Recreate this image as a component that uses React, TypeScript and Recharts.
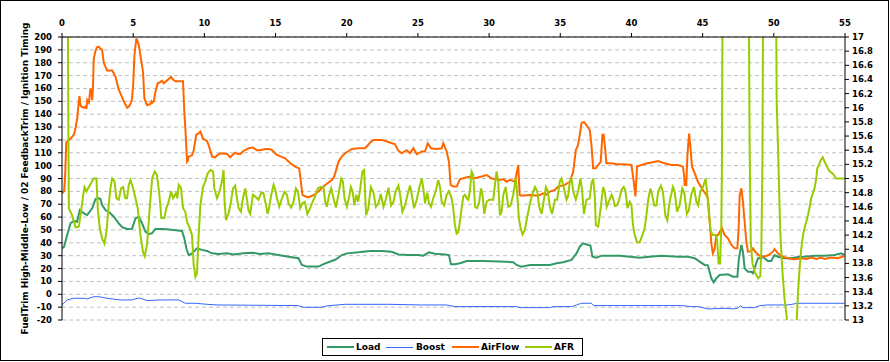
import React from 'react';
import { LineChart, Line, XAxis, YAxis, CartesianGrid } from 'recharts';

const FONT = '"DejaVu Sans", Verdana, sans-serif';

// ---- axis ticks ----
const xTicks = [0, 5, 10, 15, 20, 25, 30, 35, 40, 45, 50, 55];
const leftTicks = [-20, -10, 0, 10, 20, 30, 40, 50, 60, 70, 80, 90, 100, 110, 120, 130, 140, 150, 160, 170, 180, 190, 200];
const rightTicks = [13, 13.2, 13.4, 13.6, 13.8, 14, 14.2, 14.4, 14.6, 14.8, 15, 15.2, 15.4, 15.6, 15.8, 16, 16.2, 16.4, 16.6, 16.8, 17];

const yTitle = 'FuelTrim High-Middle-Low / 02 FeedbackTrim / Ignition Timing';
const seriesNames = ['Load', 'Boost', 'AirFlow', 'AFR'];
const seriesColors = ['#339966', '#3366FF', '#FF6600', '#99CC00'];

// ---- Load ----
const loadT = [0, 0.15, 0.36, 0.6, 0.83, 1.06, 1.25, 1.42, 1.6, 1.77, 2.12, 2.35, 2.58, 2.7, 2.82, 3.05, 3.4, 3.64, 3.99, 4.22, 4.57, 4.92, 5.16, 5.39, 5.62, 5.86, 6.09, 6.33, 6.56, 6.91, 7.38, 7.84, 8.43, 8.59, 8.75, 8.9, 9.13, 9.48, 9.83, 10.19, 10.54, 11.0, 11.59, 12.06, 12.75, 13.34, 13.92, 14.5, 14.98, 15.91, 16.61, 16.85, 17.2, 18.02, 18.37, 18.84, 19.19, 19.66, 20.01, 20.82, 21.64, 22.46, 23.16, 23.63, 24.33, 25.03, 25.38, 25.78, 26.2, 26.9, 27.18, 27.32, 27.6, 27.96, 28.43, 29.59, 30.76, 31.69, 31.93, 32.28, 32.87, 34.27, 34.74, 35.2, 35.79, 36.14, 36.37, 36.6, 36.96, 37.12, 37.26, 37.54, 37.9, 38.48, 39.18, 39.88, 40.58, 41.28, 42.1, 43.27, 43.97, 44.44, 44.79, 45.14, 45.37, 45.5, 45.61, 45.77, 45.96, 46.19, 46.78, 47.13, 47.44, 47.55, 47.72, 47.83, 47.95, 48.18, 48.4, 48.53, 48.69, 48.88, 49.12, 49.23, 49.35, 49.58, 49.82, 50.05, 50.28, 50.75, 51.22, 51.69, 52.16, 52.86, 53.56, 54.26, 54.73, 54.96];
const loadV = [35.7, 37, 46, 55.2, 57, 56.4, 65.5, 64, 62.5, 61.6, 66.8, 74, 74.6, 74, 69.4, 65.5, 63, 60.3, 55.2, 52.1, 50.8, 51, 59, 60.3, 55.2, 48.7, 46.7, 47.5, 50.8, 50.8, 50.5, 50, 49.2, 43.5, 35, 30.5, 31.8, 35.7, 34.5, 33.7, 31.8, 31.3, 31.8, 31, 31.8, 32.3, 31.3, 31.8, 31, 29.2, 28, 22.8, 21.5, 21.5, 23.4, 25.5, 26.8, 30.5, 31.8, 32.6, 33.7, 33.7, 33, 31, 30.5, 30.5, 30, 32.6, 31.5, 31, 30.5, 23.3, 23.3, 24.1, 25.9, 25.9, 25.5, 24.9, 22.8, 21.5, 22.8, 22.8, 24.1, 24.9, 26.7, 31.8, 37, 39.6, 38.3, 37.8, 29.2, 28.4, 30, 30, 30, 29.2, 28.4, 29.2, 30, 29.2, 29.2, 28, 25.4, 22.8, 22.5, 17, 12.4, 9.3, 12.4, 15, 15.5, 13.7, 13.7, 28, 38.3, 33.1, 20.2, 17.6, 17.6, 16.3, 21.5, 28, 28, 29.2, 28, 25.9, 25.9, 30.5, 29.2, 28, 28, 28.9, 29.2, 30, 30, 30.5, 31.8, 30.5];

// ---- Boost ----
const boostT = [0, 0.13, 0.36, 0.83, 1.53, 1.77, 2.23, 2.58, 3.17, 4.1, 4.92, 5.3, 5.51, 5.98, 6.91, 8.2, 8.66, 9.36, 10.19, 10.89, 16.61, 16.96, 18.25, 18.6, 19.89, 22.93, 25.27, 27.0, 27.6, 31.93, 32.16, 34.27, 34.5, 35.79, 36.14, 36.49, 37.19, 37.35, 43.51, 44.21, 44.67, 45.37, 46.54, 47.25, 47.53, 47.67, 47.83, 48.65, 49.0, 49.58, 50.99, 51.69, 54.96];
const boostV = [-8, -7, -4.4, -3.1, -3.1, -3.6, -1.9, -1.9, -3.1, -4.4, -4.4, -3.1, -3.1, -4.9, -4.4, -4.4, -7, -7, -7.8, -8.3, -8.8, -10.1, -10.1, -9, -7.8, -7.8, -8.3, -8.3, -9.6, -9.6, -10.4, -10.4, -9.6, -9.6, -8.3, -7, -7, -8.8, -8.8, -9.6, -9.6, -11.4, -10.9, -11.4, -10.4, -8.8, -10.4, -10.4, -8.8, -8.3, -8.3, -7, -7];

// ---- AirFlow ----
const airT = [0, 0.15, 0.22, 0.3, 0.45, 0.6, 0.83, 0.95, 1.07, 1.18, 1.23, 1.3, 1.35, 1.55, 1.66, 1.72, 1.77, 1.89, 2.0, 2.06, 2.12, 2.17, 2.23, 2.35, 2.45, 2.58, 2.7, 2.82, 2.93, 3.05, 3.17, 3.52, 3.62, 3.76, 3.99, 4.15, 4.34, 4.57, 4.7, 4.81, 4.92, 5.0, 5.09, 5.16, 5.23, 5.39, 5.55, 5.69, 5.79, 5.98, 6.21, 6.28, 6.35, 6.45, 6.56, 6.72, 6.9, 7.03, 7.15, 7.26, 7.45, 7.66, 7.8, 7.96, 8.5, 8.59, 8.69, 8.78, 8.84, 8.9, 9.13, 9.25, 9.43, 9.6, 9.72, 9.9, 10.19, 10.3, 10.54, 10.75, 10.9, 11.12, 11.59, 11.82, 11.95, 12.17, 12.35, 12.52, 12.75, 13.1, 13.41, 13.69, 13.92, 14.28, 14.55, 14.75, 15.1, 15.4, 15.68, 16.03, 16.38, 16.66, 16.78, 16.89, 17.1, 17.32, 17.66, 18.02, 18.2, 18.49, 18.95, 19.1, 19.19, 19.42, 19.65, 19.89, 20.36, 20.82, 21.29, 21.5, 21.64, 21.88, 22.46, 22.93, 23.4, 23.6, 23.87, 24.05, 24.22, 24.45, 24.68, 24.92, 25.27, 25.5, 25.69, 25.92, 26.32, 26.67, 26.78, 27.02, 27.18, 27.3, 27.48, 27.72, 27.96, 28.31, 28.66, 28.9, 29.13, 29.48, 29.83, 30.18, 30.5, 30.76, 31.0, 31.23, 31.46, 31.81, 31.95, 32.05, 32.1, 32.15, 32.28, 32.87, 33.45, 33.8, 34.04, 34.27, 34.62, 34.85, 35.32, 35.67, 35.91, 36.09, 36.25, 36.37, 36.49, 36.66, 36.84, 37.07, 37.19, 37.31, 37.5, 37.66, 37.84, 37.96, 38.05, 38.17, 38.24, 38.6, 38.95, 39.41, 40.0, 40.16, 40.28, 40.39, 40.7, 41.1, 41.4, 41.87, 42.34, 42.81, 43.27, 43.62, 43.7, 43.74, 43.85, 43.93, 44.05, 44.15, 44.25, 44.4, 44.67, 45.02, 45.26, 45.37, 45.49, 45.61, 45.72, 45.84, 45.96, 46.1, 46.19, 46.36, 46.54, 46.78, 47.02, 47.25, 47.44, 47.53, 47.6, 47.72, 47.83, 47.95, 48.07, 48.18, 48.42, 48.54, 48.7, 48.88, 49.12, 49.4, 49.63, 49.94, 50.05, 50.28, 50.63, 50.99, 51.46, 51.93, 52.3, 52.63, 53.0, 53.3, 53.56, 54.03, 54.5, 54.96];
const airV = [78.5, 80, 92, 118, 120, 121, 124, 129, 137, 150, 154, 147, 146, 145, 146, 144, 151, 149, 160, 158, 151, 160, 183, 189, 192, 192.5, 191, 190, 180, 177, 174, 174, 172, 169, 159, 155, 150, 145, 146, 148, 152, 163, 186, 193, 199, 194, 183, 173, 152, 147, 148, 150, 149, 150, 157, 164, 165, 166, 164, 165, 167, 169, 167, 165.6, 165.6, 142, 124, 103, 104, 107, 108, 112, 124, 125, 126.4, 121, 119, 116, 107, 106.4, 108, 109.6, 109, 106.4, 108, 110, 109, 109, 111.4, 113.5, 114, 112, 112, 113, 113, 112, 108.3, 107, 105.7, 101.8, 99.2, 97.9, 87.5, 77.2, 76, 75.4, 77, 79.8, 82, 85, 88.8, 91, 94, 103, 107, 109.6, 113, 113.5, 113.5, 116, 118, 120, 120, 118.4, 116.6, 112, 109.6, 111, 112, 109.6, 113.5, 109, 111, 111, 117.4, 113.5, 113, 113.5, 117.4, 111, 103, 85, 83.7, 83.7, 89.6, 90.6, 91.5, 90, 90.6, 91.5, 92.7, 90, 89.5, 88.8, 89.5, 87.5, 89, 87.5, 95, 100.5, 88, 77.2, 76.6, 77.2, 76.6, 78.5, 77.5, 79.8, 81.1, 83.7, 85, 87.5, 95.3, 112, 116, 124, 133, 134, 131.6, 127.7, 116, 98, 98, 100.5, 103, 124, 124, 111, 101.8, 101.8, 101, 101, 100.5, 87.5, 76, 99.3, 100.5, 101.8, 102.4, 103.6, 101.8, 100.5, 100.5, 99.2, 92, 85, 85, 108, 125, 113.5, 99.2, 95.3, 87.5, 81, 77.2, 74.6, 57.7, 39.6, 31.8, 35, 46, 46, 48.4, 51.3, 46.2, 43.5, 38.3, 35.7, 35.7, 51.3, 77, 82.4, 72, 56.4, 41, 33.1, 33.5, 35.7, 33, 31, 29.2, 29.5, 30.5, 33.1, 35.2, 31.8, 29.2, 28, 27.3, 28, 27.5, 28.5, 27.5, 28.5, 27.5, 28.5, 28, 29.7];

// ---- AFR (right axis) ----
const afrT = [0, 0.38, 0.44, 0.48, 0.71, 0.95, 1.18, 1.3, 1.49, 1.58, 1.72, 1.89, 2.12, 2.23, 2.42, 2.51, 2.65, 2.82, 2.98, 3.12, 3.28, 3.4, 3.52, 3.69, 3.82, 3.99, 4.15, 4.29, 4.45, 4.57, 4.69, 4.81, 5.0, 5.16, 5.32, 5.51, 5.69, 5.81, 5.98, 6.16, 6.33, 6.51, 6.67, 6.84, 6.98, 7.19, 7.33, 7.49, 7.66, 7.8, 8.0, 8.1, 8.2, 8.36, 8.5, 8.66, 8.78, 8.97, 9.13, 9.25, 9.37, 9.48, 9.6, 9.72, 9.9, 10.07, 10.23, 10.42, 10.61, 10.7, 10.89, 11.07, 11.24, 11.35, 11.42, 11.52, 11.69, 11.87, 12.01, 12.17, 12.29, 12.4, 12.57, 12.71, 12.87, 12.98, 13.1, 13.22, 13.41, 13.55, 13.8, 14.0, 14.14, 14.33, 14.44, 14.56, 14.7, 14.86, 14.98, 15.1, 15.26, 15.45, 15.63, 15.8, 15.91, 16.1, 16.26, 16.43, 16.57, 16.73, 16.89, 17.05, 17.24, 17.43, 17.6, 17.78, 17.97, 18.13, 18.37, 18.49, 18.6, 18.77, 18.91, 19.07, 19.24, 19.42, 19.61, 19.73, 19.84, 20.01, 20.15, 20.29, 20.41, 20.54, 20.68, 20.8, 20.94, 21.01, 21.1, 21.22, 21.36, 21.52, 21.69, 21.88, 22.04, 22.23, 22.39, 22.58, 22.74, 22.93, 23.12, 23.28, 23.44, 23.63, 23.75, 23.91, 24.1, 24.29, 24.45, 24.57, 24.73, 24.92, 25.08, 25.27, 25.38, 25.5, 25.66, 25.78, 25.92, 26.08, 26.25, 26.43, 26.55, 26.67, 26.85, 27.02, 27.18, 27.37, 27.48, 27.6, 27.72, 27.84, 27.96, 28.07, 28.19, 28.31, 28.43, 28.54, 28.66, 28.77, 28.89, 29.01, 29.15, 29.29, 29.43, 29.54, 29.66, 29.83, 30.01, 30.29, 30.41, 30.53, 30.64, 30.76, 30.88, 31.0, 31.16, 31.35, 31.52, 31.69, 31.88, 31.98, 32.09, 32.21, 32.35, 32.51, 32.68, 32.87, 33.03, 33.22, 33.38, 33.52, 33.69, 33.85, 33.99, 34.12, 34.27, 34.43, 34.62, 34.78, 34.97, 35.09, 35.2, 35.44, 35.55, 35.67, 35.79, 35.91, 36.09, 36.25, 36.42, 36.54, 36.66, 36.84, 37.07, 37.19, 37.31, 37.42, 37.5, 37.66, 37.77, 37.89, 38.01, 38.12, 38.26, 38.4, 38.6, 38.71, 38.83, 38.99, 39.14, 39.3, 39.46, 39.58, 39.72, 39.88, 40.0, 40.11, 40.23, 40.39, 40.58, 40.77, 40.93, 41.05, 41.19, 41.33, 41.45, 41.6, 41.75, 41.88, 42.07, 42.2, 42.38, 42.52, 42.68, 42.91, 43.03, 43.2, 43.38, 43.57, 43.72, 43.89, 44.03, 44.2, 44.39, 44.56, 44.68, 44.84, 45.02, 45.21, 45.33, 45.45, 45.57, 45.72, 45.96, 46.03, 46.12, 46.22, 46.31, 46.36, 46.42, 48.2, 48.3, 48.38, 48.5, 48.66, 48.9, 49.05, 49.12, 49.2, 49.28, 50.12, 50.2, 50.3, 50.45, 50.6, 50.75, 50.9, 51.05, 51.5, 51.62, 51.69, 51.81, 51.93, 52.05, 52.16, 52.28, 52.4, 52.52, 52.63, 52.75, 52.86, 52.98, 53.05, 53.16, 53.3, 53.44, 53.56, 53.7, 53.91, 54.14, 54.38, 54.96];
const afrV = [22, 19, 16, 14.58, 14.48, 14.31, 14.32, 14.48, 14.77, 14.88, 14.82, 14.88, 14.96, 15.0, 15.0, 14.58, 14.3, 14.15, 14.08, 14.24, 14.62, 14.86, 15.0, 14.96, 14.72, 14.7, 14.86, 14.88, 14.72, 14.72, 14.91, 14.98, 14.86, 14.72, 14.58, 14.2, 13.96, 13.9, 14.08, 14.58, 15.0, 15.1, 15.05, 14.77, 14.44, 14.44, 14.58, 14.67, 14.82, 14.72, 14.79, 14.72, 14.91, 14.86, 14.58, 14.53, 14.39, 14.3, 14.2, 13.78, 13.61, 13.66, 14.2, 14.62, 14.88, 14.96, 15.07, 15.12, 15.1, 14.86, 14.72, 14.82, 14.96, 15.12, 14.67, 14.41, 14.5, 14.67, 14.86, 14.9, 14.72, 14.58, 14.53, 14.72, 14.86, 14.72, 14.55, 14.5, 14.77, 14.75, 14.7, 14.8, 14.8, 14.62, 14.5, 14.6, 14.77, 14.91, 14.84, 14.72, 14.6, 14.72, 14.81, 14.77, 14.65, 14.59, 14.67, 14.86, 14.82, 14.58, 14.65, 14.67, 14.5, 14.58, 14.67, 14.75, 14.86, 14.88, 14.88, 14.67, 14.6, 14.77, 14.86, 14.72, 14.59, 14.77, 15.0, 14.96, 14.72, 14.6, 14.72, 14.88, 14.82, 14.62, 14.77, 14.67, 14.84, 14.96, 15.1, 15.12, 14.48, 14.58, 14.88, 14.8, 14.6, 14.65, 14.78, 14.6, 14.7, 14.87, 14.62, 14.67, 14.82, 14.9, 14.77, 14.53, 14.62, 14.79, 14.9, 14.77, 14.58, 14.7, 14.86, 15.0, 14.86, 14.65, 14.8, 14.65, 14.6, 14.72, 14.82, 14.98, 14.88, 14.67, 14.62, 14.77, 14.82, 14.72, 14.58, 14.34, 14.22, 14.24, 14.41, 14.58, 14.75, 14.77, 14.72, 14.7, 14.84, 15.1, 15.05, 14.6, 14.58, 14.65, 14.86, 14.77, 14.5, 14.67, 14.7, 14.7, 14.91, 15.1, 14.96, 14.48, 14.53, 14.77, 14.88, 14.6, 14.62, 14.77, 15.0, 14.77, 14.44, 14.3, 14.21, 14.27, 14.46, 14.65, 14.77, 14.88, 14.82, 14.6, 14.5, 14.7, 14.88, 14.82, 14.6, 14.5, 14.7, 14.7, 14.96, 15.0, 14.91, 14.7, 14.75, 14.96, 15.0, 14.82, 14.7, 14.82, 15.0, 14.82, 14.5, 14.7, 14.72, 14.93, 15.0, 14.77, 14.34, 14.32, 14.48, 14.67, 14.88, 14.82, 14.6, 14.67, 14.77, 14.72, 14.61, 14.62, 14.7, 14.84, 14.88, 14.82, 14.58, 14.67, 14.62, 14.34, 14.2, 14.1, 14.1, 14.2, 14.3, 14.48, 14.72, 14.86, 14.77, 14.62, 14.62, 14.82, 14.9, 14.82, 14.48, 14.41, 14.67, 14.88, 14.82, 14.53, 14.62, 14.86, 14.79, 14.5, 14.55, 14.77, 14.88, 14.67, 14.62, 14.82, 14.88, 15.0, 14.77, 14.48, 14.25, 14.2, 14.2, 14.1, 13.8, 13.8, 14.3, 15.24, 19, 19, 15.5, 14.1, 13.8, 13.68, 13.59, 13.62, 13.96, 15.2, 19, 19, 16.1, 15.4, 14.25, 13.7, 13.3, 13.05, 12.6, 12.6, 13.05, 13.35, 13.73, 14.01, 14.2, 14.3, 14.39, 14.48, 14.6, 14.72, 14.8, 14.86, 15.0, 15.14, 15.19, 15.26, 15.3, 15.24, 15.18, 15.1, 15.07, 15.0, 15.0];

const toRows = (ts: number[], vs: number[]) => ts.map((t, i) => ({ t, v: vs[i] }));
const loadData = toRows(loadT, loadV);
const boostData = toRows(boostT, boostV);
const airData = toRows(airT, airV);
const afrData = toRows(afrT, afrV);
const seriesData = [loadData, boostData, airData, afrData];
const seriesAxis = ['l', 'l', 'l', 'r'];
const seriesWidth = [2, 1, 2, 2];

const tickStyle = { fill: '#000', fontSize: 8.5, fontWeight: 700, fontFamily: FONT };

const YTitle = (props: any) => {
  const vb = props.viewBox || { x: 6, y: 37, width: 56, height: 283 };
  const cx = vb.x + 19;
  const cy = vb.y + vb.height / 2;
  return (
    <text
      x={cx}
      y={cy}
      transform={`rotate(-90 ${cx} ${cy})`}
      textAnchor="middle"
      dominantBaseline="central"
      fontFamily={FONT}
      fontWeight={700}
      fontSize={8}
      fill="#000"
      textLength={312}
      lengthAdjust="spacingAndGlyphs"
    >
      {yTitle}
    </text>
  );
};

const legendLineLeft = [4, 63, 129, 202];
const legendTextLeft = [33, 93, 158, 231];

export default function App() {
  return (
    <div style={{ position: 'absolute', left: 0, top: 0, width: 889, height: 361, background: '#fff' }}>
      <LineChart width={889} height={361} margin={{ top: 7, right: 4, bottom: 41, left: 6 }}>
        <CartesianGrid xAxisId="t" yAxisId="l" vertical={false} stroke="#c0c0c0" strokeDasharray="4 3" />
        <XAxis
          xAxisId="t"
          type="number"
          dataKey="t"
          orientation="top"
          domain={[0, 55]}
          ticks={xTicks}
          interval={0}
          height={30}
          allowDataOverflow
          axisLine={{ stroke: '#000', strokeWidth: 1 }}
          tickLine={{ stroke: '#000' }}
          tickSize={4}
          tickMargin={7}
          tick={tickStyle}
        />
        <YAxis
          yAxisId="l"
          domain={[-20, 200]}
          ticks={leftTicks}
          interval={0}
          width={56}
          axisLine={{ stroke: '#000', strokeWidth: 1 }}
          tickLine={{ stroke: '#000' }}
          tickSize={4}
          tickMargin={6}
          tick={tickStyle}
          label={<YTitle />}
        />
        <YAxis
          yAxisId="r"
          orientation="right"
          domain={[13, 17]}
          ticks={rightTicks}
          interval={0}
          width={40}
          allowDataOverflow
          axisLine={{ stroke: '#000', strokeWidth: 1 }}
          tickLine={{ stroke: '#000' }}
          tickSize={4}
          tickMargin={3}
          tick={tickStyle}
          tickFormatter={(v: number) => String(Math.round(v * 10) / 10)}
        />
        {seriesNames.map((name, i) => (
          <Line
            key={name}
            name={name}
            xAxisId="t"
            yAxisId={seriesAxis[i]}
            data={seriesData[i]}
            dataKey="v"
            type="linear"
            stroke={seriesColors[i]}
            strokeWidth={seriesWidth[i]}
            dot={false}
            activeDot={false}
            isAnimationActive={false}
          />
        ))}
      </LineChart>
      <div
        style={{
          position: 'absolute',
          left: 322,
          top: 338,
          width: 261,
          height: 18,
          border: '1px solid #000',
          boxSizing: 'border-box',
          background: '#fff',
          fontFamily: FONT,
          fontWeight: 700,
          fontSize: 9,
          color: '#000',
        }}
      >
        {seriesNames.map((name, i) => (
          <React.Fragment key={name}>
            <div
              style={{
                position: 'absolute',
                left: legendLineLeft[i],
                top: seriesWidth[i] === 1 ? 8 : 7,
                width: 27,
                height: seriesWidth[i],
                background: seriesColors[i],
              }}
            />
            <div style={{ position: 'absolute', left: legendTextLeft[i], top: 2, lineHeight: '12px', whiteSpace: 'nowrap' }}>
              {name}
            </div>
          </React.Fragment>
        ))}
      </div>
      <div
        style={{
          position: 'absolute',
          left: 0,
          top: 0,
          width: 889,
          height: 361,
          border: '1px solid #000',
          boxSizing: 'border-box',
          pointerEvents: 'none',
        }}
      />
    </div>
  );
}
